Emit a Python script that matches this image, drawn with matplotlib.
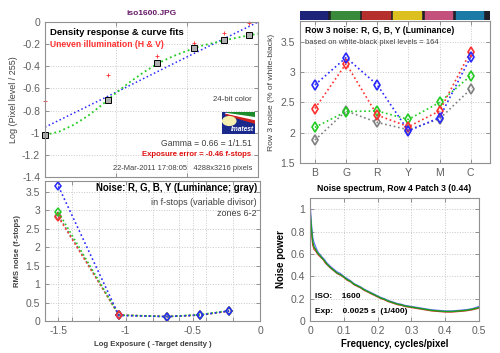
import matplotlib
matplotlib.use('Agg')
import matplotlib.pyplot as plt
from matplotlib.patches import Rectangle, Circle, Polygon
from matplotlib.ticker import FormatStrFormatter

plt.rcParams['font.family'] = ['Liberation Sans', 'DejaVu Sans']
plt.rcParams['axes.unicode_minus'] = False

# ---- data ----
# density response (top left)
zone_x = [-1.5, -1.056, -0.708, -0.451, -0.236, -0.06]
zone_density = [-1.02, -0.70, -0.37, -0.235, -0.165, -0.12]
uneven_y = [-0.71, -0.48, -0.31, -0.19, -0.10, -0.01]
fit_x = [-1.5, -1.4, -1.3, -1.2, -1.1, -1.0, -0.9, -0.8, -0.7, -0.6, -0.5, -0.4, -0.3, -0.2, -0.1, 0.0]
fit_green = [-1.02, -0.99, -0.93, -0.85, -0.75, -0.64, -0.54, -0.45, -0.37, -0.31, -0.26, -0.215, -0.185, -0.155, -0.13, -0.105]
fit_blue_x = [-1.5, -1.0, -0.5, 0.0]
fit_blue = [-0.95, -0.635, -0.315, 0.0]

# row 3 noise (top right)
patches = ['B', 'G', 'R', 'Y', 'M', 'C']
row3_r = [2.40, 3.14, 2.29, 2.10, 2.36, 3.34]
row3_g = [2.09, 2.35, 2.36, 2.22, 2.50, 2.94]
row3_b = [2.79, 3.24, 2.79, 2.03, 2.25, 3.25]
row3_y = [1.88, 2.36, 2.17, 2.05, 2.23, 2.72]
band_colors = ['#1c2378', '#3a8a3c', '#b5302c', '#dcc020', '#c4507c', '#1c7aa6']

# noise in f-stops (bottom left)
noise_x = [-1.5, -1.05, -0.69, -0.45, -0.23]
noise_r = [2.82, 0.16, 0.12, 0.16, 0.27]
noise_g = [2.95, 0.16, 0.12, 0.17, 0.28]
noise_b = [3.65, 0.15, 0.12, 0.16, 0.27]
noise_y = [2.85, 0.16, 0.12, 0.16, 0.27]

# noise spectrum (bottom right)
freq = [0, 0.004, 0.008, 0.012, 0.016, 0.02, 0.025, 0.03, 0.035, 0.04, 0.045, 0.05,
        0.06, 0.07, 0.08, 0.09, 0.10, 0.11, 0.12, 0.13, 0.14, 0.15, 0.16, 0.17,
        0.18, 0.19, 0.20, 0.21, 0.22, 0.23, 0.24, 0.25, 0.26, 0.27, 0.28, 0.29,
        0.30, 0.32, 0.34, 0.36, 0.38, 0.40, 0.42, 0.44, 0.46, 0.48, 0.50]
pow_r = [0.95, 0.80, 0.68, 0.64, 0.63, 0.61, 0.59, 0.575, 0.56, 0.545, 0.52, 0.505,
         0.475, 0.45, 0.425, 0.41, 0.39, 0.365, 0.35, 0.325, 0.31, 0.295, 0.275, 0.26,
         0.245, 0.23, 0.215, 0.20, 0.19, 0.175, 0.165, 0.155, 0.145, 0.14, 0.13, 0.125,
         0.12, 0.11, 0.10, 0.09, 0.085, 0.08, 0.08, 0.085, 0.09, 0.10, 0.115]
pow_b = [1.07, 0.88, 0.75, 0.70, 0.67, 0.64, 0.61, 0.595, 0.575, 0.56, 0.54, 0.52,
         0.49, 0.465, 0.44, 0.425, 0.40, 0.38, 0.36, 0.335, 0.32, 0.305, 0.285, 0.27,
         0.255, 0.24, 0.225, 0.21, 0.20, 0.185, 0.175, 0.165, 0.155, 0.15, 0.14, 0.135,
         0.13, 0.12, 0.11, 0.10, 0.095, 0.09, 0.09, 0.095, 0.10, 0.11, 0.13]
pow_g = [1.00, 0.84, 0.71, 0.66, 0.645, 0.62, 0.60, 0.585, 0.565, 0.55, 0.53, 0.51,
         0.48, 0.455, 0.43, 0.415, 0.395, 0.37, 0.355, 0.33, 0.315, 0.30, 0.28, 0.265,
         0.25, 0.235, 0.22, 0.205, 0.195, 0.18, 0.17, 0.16, 0.15, 0.145, 0.135, 0.13,
         0.125, 0.115, 0.105, 0.095, 0.09, 0.085, 0.085, 0.09, 0.095, 0.105, 0.12]

RED = '#ff3030'
GREEN = '#22cc22'
BLUE = '#2828ff'
GRAY = '#808080'
TXT = '#404040'


def matlab_box(ax):
    for s in ax.spines.values():
        s.set_color('#909090')
        s.set_linewidth(0.8)
    ax.tick_params(direction='in', top=True, right=True, length=3,
                   labelsize=7.5, colors='#909090', labelcolor='#606060', width=0.7)
    ax.tick_params(which='minor', direction='in', top=True, right=True, length=3,
                   colors='#909090', width=0.7)
    ax.grid(True, which='both', linestyle=':', color='#c8c8c8', linewidth=0.7)


fig = plt.figure(figsize=(5.0, 3.53), dpi=100)

# ---------------- top left ----------------
ax1 = fig.add_axes([0.09, 0.4986, 0.426, 0.439])
ax1.plot(fit_blue_x, fit_blue, ':', color=BLUE, lw=1.1)
ax1.plot(fit_x, fit_green, ':', color=GREEN, lw=1.3)
ax1.plot(zone_x, uneven_y, '+', color=RED, ms=3, mew=0.6, clip_on=False)
ax1.plot(zone_x, zone_density, 's', color='black', mfc='#b0b0b0', ms=5, mew=0.7, clip_on=False)
ax1.set_xlim(-1.5, 0)
ax1.set_ylim(-1.4, 0)
ax1.set_xticks([-1.5, -1.0, -0.5, 0])
ax1.set_xticklabels([])
ax1.set_yticks([0, -0.2, -0.4, -0.6, -0.8, -1.0, -1.2, -1.4])
ax1.yaxis.set_major_formatter(FormatStrFormatter('%g'))
matlab_box(ax1)
ax1.set_ylabel('Log (Pixel level / 255)', fontsize=6.5, color=TXT, labelpad=3)
ax1.set_title('iso1600.JPG', fontsize=6, fontweight='bold', color='#661a66', pad=5)
ax1.text(0.025, 0.935, 'Density response & curve fits', transform=ax1.transAxes,
         fontsize=6.8, fontweight='bold', color='black', va='center')
ax1.text(0.025, 0.858, 'Uneven illumination (H & V)', transform=ax1.transAxes,
         fontsize=6.2, fontweight='bold', color=RED, va='center')
ax1.text(0.97, 0.503, '24-bit color', transform=ax1.transAxes, fontsize=5.6,
         color=TXT, ha='right', va='center')
ax1.text(0.97, 0.213, 'Gamma = 0.66 = 1/1.51', transform=ax1.transAxes, fontsize=6.2,
         color=TXT, ha='right', va='center')
ax1.text(0.97, 0.142, 'Exposure error = -0.46 f-stops', transform=ax1.transAxes,
         fontsize=5.6, fontweight='bold', color='#e01010', ha='right', va='center')
ax1.text(0.975, 0.058, '22-Mar-2011 17:08:05   4288x3216 pixels', transform=ax1.transAxes,
         fontsize=5.4, color=TXT, ha='right', va='center')

# imatest logo
logo = fig.add_axes([0.444, 0.62, 0.066, 0.062])
logo.set_xlim(0, 1)
logo.set_ylim(0, 1)
logo.axis('off')
logo.add_patch(Rectangle((0, 0), 1, 1, color='#1a2a8c'))
logo.add_patch(Polygon([[0.15, 1], [1, 1], [1, 0.72]], color='#1a8a2a'))
logo.add_patch(Polygon([[0.1, 0.95], [1, 0.75], [1, 0.62]], color='white'))
logo.add_patch(Polygon([[0.1, 0.9], [1, 0.6], [1, 0.5]], color='#d02020'))
logo.add_patch(Circle((0.22, 0.6), 0.2, color='#f5f0b0'))
logo.text(0.97, 0.2, 'Imatest', fontsize=4.8, color='white', fontweight='bold',
          style='italic', ha='right', va='center')

# ---------------- top right ----------------
ax2 = fig.add_axes([0.6, 0.538, 0.38, 0.402])
xs = range(1, len(patches) + 1)
for vals, c in [(row3_y, GRAY), (row3_g, GREEN), (row3_r, RED), (row3_b, BLUE)]:
    ax2.plot(xs, vals, ':', color=c, lw=1.2, marker='d', mfc='none', ms=5, mew=1.2)
ax2.set_xlim(0.52, 6.62)
ax2.set_ylim(1.5, 3.84)
ax2.set_xticks(list(xs))
ax2.set_xticklabels(patches)
ax2.set_yticks([1.5, 2, 2.5, 3, 3.5])
ax2.yaxis.set_major_formatter(FormatStrFormatter('%g'))
matlab_box(ax2)
ax2.set_ylabel('Row 3 noise (% of white-black)', fontsize=6.1, color=TXT, labelpad=4)
ax2.text(0.026, 0.937, 'Row 3 noise: R, G, B, Y (Luminance)', transform=ax2.transAxes,
         fontsize=6.2, fontweight='bold', color='black', va='center')
ax2.text(0.026, 0.852, 'based on white-black pixel levels = 164', transform=ax2.transAxes,
         fontsize=5.5, color=TXT, va='center')

band = fig.add_axes([0.6, 0.943, 0.38, 0.027])
band.set_xlim(0.52, 6.62)
band.set_ylim(0, 1)
band.axis('off')
band.add_patch(Rectangle((0.52, 0), 6.1, 1, color='#202028'))
for i, c in enumerate(band_colors):
    band.add_patch(Rectangle((i + 0.52, 0), 0.88, 1, color=c))

# ---------------- bottom left ----------------
ax3 = fig.add_axes([0.09, 0.0907, 0.43, 0.397])
for vals, c in [(noise_y, GRAY), (noise_r, RED), (noise_g, GREEN), (noise_b, BLUE)]:
    ax3.plot(noise_x, vals, ':', color=c, lw=1.2, marker='d', mfc='none', ms=4.5, mew=1.1)
# red zone marker sits on top at the second zone
ax3.plot(noise_x[1], noise_r[1], 'd', color=RED, mfc='none', ms=4.5, mew=1.1)
ax3.set_xlim(-1.6, 0)
ax3.set_ylim(0, 3.8)
ax3.set_xticks([-1.5, -1, -0.5, 0])
ax3.set_xticks([-1.4, -1.2, -0.8, -0.6, -0.4, -0.2], minor=True)
ax3.xaxis.set_major_formatter(FormatStrFormatter('%g'))
ax3.set_yticks([0, 0.5, 1, 1.5, 2, 2.5, 3, 3.5])
ax3.yaxis.set_major_formatter(FormatStrFormatter('%g'))
matlab_box(ax3)
ax3.set_ylabel('RMS noise (f-stops)', fontsize=5.5, fontweight='bold', color=TXT, labelpad=3)
ax3.set_xlabel('Log Exposure ( -Target density )', fontsize=5.6, fontweight='bold',
               color=TXT, labelpad=4)
ax3.text(0.985, 0.95, 'Noise: R, G, B, Y (Luminance; gray)', transform=ax3.transAxes,
         fontsize=6.9, fontweight='bold', color='black', ha='right', va='center')
ax3.text(0.985, 0.843, 'in f-stops (variable divisor)', transform=ax3.transAxes,
         fontsize=6.5, color=TXT, ha='right', va='center')
ax3.text(0.985, 0.77, 'zones 6-2', transform=ax3.transAxes,
         fontsize=6.5, color=TXT, ha='right', va='center')

# ---------------- bottom right ----------------
ax4 = fig.add_axes([0.62, 0.0907, 0.338, 0.348])
ax4.plot(freq, pow_r, '-', color='#e03030', lw=0.9)
ax4.plot(freq, pow_b, '-', color='#6a6aff', lw=0.9)
ax4.plot(freq, pow_g, '-', color='#18a018', lw=1.0)
ax4.set_xlim(0, 0.5)
ax4.set_ylim(0, 1.1)
ax4.set_xticks([0, 0.1, 0.2, 0.3, 0.4, 0.5])
ax4.set_yticks([0, 0.2, 0.4, 0.6, 0.8, 1.0])
ax4.xaxis.set_major_formatter(FormatStrFormatter('%g'))
ax4.yaxis.set_major_formatter(FormatStrFormatter('%g'))
matlab_box(ax4)
ax4.set_title('Noise spectrum, Row 4 Patch 3 (0.44)', fontsize=6.2, fontweight='bold', pad=5)
ax4.set_xlabel('Frequency, cycles/pixel', fontsize=6.9, fontweight='bold', labelpad=2)
ax4.set_ylabel('Noise power', fontsize=7, fontweight='bold', labelpad=3)
ax4.text(0.03, 0.2, 'ISO:    1600', transform=ax4.transAxes, fontsize=6,
         fontweight='bold', va='center')
ax4.text(0.03, 0.08, 'Exp:    0.0025 s  (1/400)', transform=ax4.transAxes, fontsize=6,
         fontweight='bold', va='center')

fig.savefig('out.png', dpi=100)
